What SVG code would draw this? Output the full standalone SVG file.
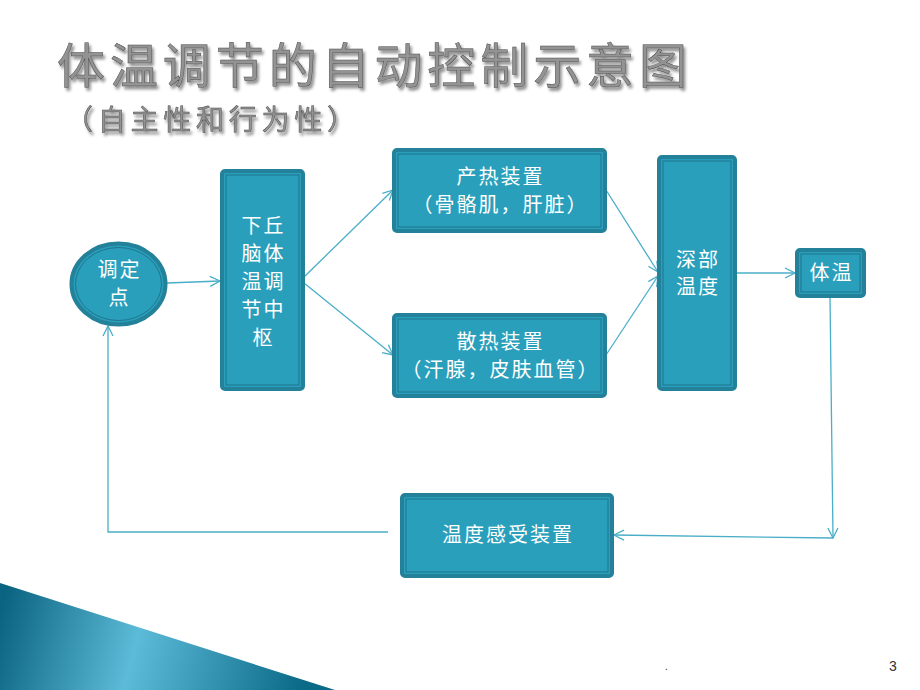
<svg xmlns="http://www.w3.org/2000/svg" width="920" height="690" viewBox="0 0 920 690">
<defs>
<style>
.box{fill:#2a9fbc;stroke:#23819a;stroke-width:4}
.inner{fill:none;stroke:#1e758c;stroke-width:1}
.t{fill:#ffffff;font-family:"Noto Sans CJK SC","Noto Sans",sans-serif;font-size:20px;text-anchor:middle;letter-spacing:2px}
.c{fill:none;stroke:#4aaec8;stroke-width:1.3}
.title{fill:#939393;stroke:#4d4d4d;stroke-width:0.5;font-family:"Noto Sans CJK SC",sans-serif}
</style>
<marker id="ah" viewBox="0 0 12 12" refX="11" refY="6" markerWidth="12" markerHeight="12" markerUnits="userSpaceOnUse" orient="auto">
<path d="M1,1 L11,6 L1,11" fill="none" stroke="#4aaec8" stroke-width="1.3"/>
</marker>
<linearGradient id="tri" gradientUnits="userSpaceOnUse" x1="0" y1="610" x2="300" y2="690">
<stop offset="0" stop-color="#0a6380"/>
<stop offset="0.45" stop-color="#5cbbd8"/>
<stop offset="1" stop-color="#0a6a88"/>
</linearGradient>
<filter id="sh" x="-5%" y="-20%" width="110%" height="140%">
<feDropShadow dx="2" dy="3" stdDeviation="1.5" flood-color="#000" flood-opacity="0.45"/>
</filter>
</defs>
<rect width="920" height="690" fill="#ffffff"/>
<polygon points="0,583 335,690 0,690" fill="url(#tri)"/>
<g id="title" filter="url(#sh)">
<text class="title" x="57" y="83" font-size="48" textLength="630">体温调节的自动控制示意图</text>
<text class="title" x="65" y="130" font-size="28" textLength="290">（自主性和行为性）</text>
</g>
<g id="connectors">
<line class="c" x1="167" y1="283" x2="220" y2="281" marker-end="url(#ah)"/>
<line class="c" x1="304" y1="277" x2="393" y2="190" marker-end="url(#ah)"/>
<line class="c" x1="304" y1="283" x2="393" y2="355" marker-end="url(#ah)"/>
<line class="c" x1="606" y1="190" x2="658" y2="272" marker-end="url(#ah)"/>
<line class="c" x1="606" y1="355" x2="658" y2="276" marker-end="url(#ah)"/>
<line class="c" x1="736" y1="273" x2="795" y2="273" marker-end="url(#ah)"/>
<line class="c" x1="830" y1="297" x2="833" y2="538" marker-end="url(#ah)"/>
<line class="c" x1="833" y1="538" x2="614" y2="535" marker-end="url(#ah)"/>
<polyline class="c" points="388,532 108,532 108,326" marker-end="url(#ah)"/>
</g>
<g id="setpoint">
<ellipse cx="118.5" cy="284" rx="47" ry="40.5" fill="#2a9fbc" stroke="#23819a" stroke-width="4"/>
<ellipse cx="118.5" cy="284" rx="43" ry="36.5" fill="none" stroke="#1e758c" stroke-width="1"/>
<text class="t" x="119.5" y="277">调定</text>
<text class="t" x="119.5" y="305">点</text>
</g>
<g id="hypothalamus">
<rect class="box" x="222" y="171" width="81" height="218" rx="3"/>
<rect class="inner" x="226" y="175" width="73" height="210"/>
<text class="t" x="263.5" y="233" font-size="21">下丘</text>
<text class="t" x="263.5" y="261" font-size="21">脑体</text>
<text class="t" x="263.5" y="289" font-size="21">温调</text>
<text class="t" x="263.5" y="317" font-size="21">节中</text>
<text class="t" x="263.5" y="345" font-size="21">枢</text>
</g>
<g id="production">
<rect class="box" x="394" y="150" width="211" height="81" rx="3"/>
<rect class="inner" x="398" y="154" width="203" height="73"/>
<text class="t" x="500.5" y="184">产热装置</text>
<text class="t" x="500.5" y="212">（骨骼肌，肝脏）</text>
</g>
<g id="dissipation">
<rect class="box" x="394" y="315" width="211" height="81" rx="3"/>
<rect class="inner" x="398" y="319" width="203" height="73"/>
<text class="t" x="500.5" y="349">散热装置</text>
<text class="t" x="500.5" y="377">（汗腺，皮肤血管）</text>
</g>
<g id="deep">
<rect class="box" x="659" y="157" width="76" height="232" rx="3"/>
<rect class="inner" x="663" y="161" width="68" height="224"/>
<text class="t" x="698" y="267">深部</text>
<text class="t" x="698" y="294">温度</text>
</g>
<g id="bodytemp">
<rect class="box" x="797" y="250" width="67" height="46" rx="3"/>
<rect class="inner" x="801" y="254" width="59" height="38"/>
<text class="t" x="831.5" y="280">体温</text>
</g>
<g id="receptor">
<rect class="box" x="402" y="495" width="210" height="81" rx="3"/>
<rect class="inner" x="406" y="499" width="202" height="73"/>
<text class="t" x="508" y="542">温度感受装置</text>
</g>
<text x="665" y="670" font-family="Liberation Sans, sans-serif" font-size="10" fill="#333">.</text>
<text x="889" y="671" font-family="Liberation Sans, sans-serif" font-size="14" fill="#333">3</text>
</svg>
